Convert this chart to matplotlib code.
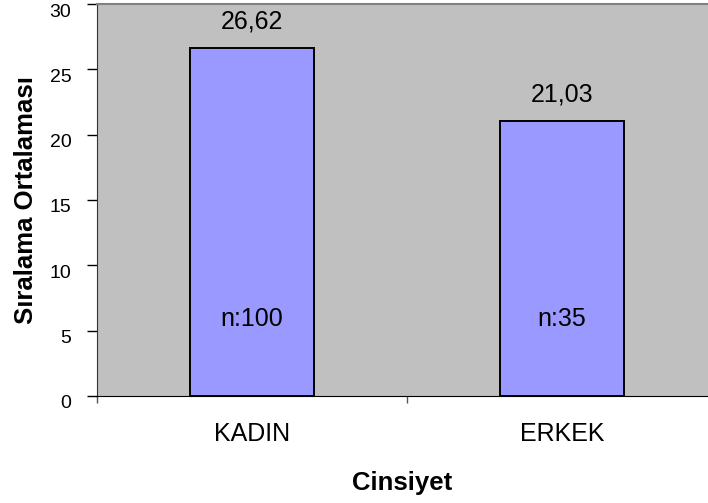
import matplotlib.pyplot as plt
from matplotlib.transforms import ScaledTranslation

plt.rcParams['font.family'] = ['Liberation Sans', 'DejaVu Sans']

# veriler
kategoriler = ['KADIN', 'ERKEK']
ortalamalar = [26.62, 21.03]
n_degerleri = [100, 35]

fig = plt.figure(figsize=(7.08, 5.03), dpi=100)
ax = fig.add_axes([97 / 708, 107 / 503, 1 - 97 / 708, 392 / 503])
ax.set_facecolor('#c0c0c0')

x = list(range(len(kategoriler)))
bars = ax.bar(x, ortalamalar, width=0.403, color='#9999ff', edgecolor='black', linewidth=1.4, zorder=2)

# ortalama degerleri barlarin ustune
for xi, v in zip(x, ortalamalar):
    ax.annotate(f"{v:.2f}".replace('.', ','), (xi, v), xytext=(0, 19.5), textcoords='offset points',
                ha='center', va='center', fontsize=18)

# n sayilari
for xi, n in zip(x, n_degerleri):
    ax.text(xi, 5.9, f"n:{n}", ha='center', va='center', fontsize=18)

ax.set_yticks(range(0, 31, 5))
ax.tick_params(axis='y', length=7.5, width=1, labelsize=14, pad=11)
# y etiketleri biraz asagida duruyor
kaydir = ScaledTranslation(0, -6 / 100, fig.dpi_scale_trans)
for lbl in ax.get_yticklabels():
    lbl.set_transform(lbl.get_transform() + kaydir)

ax.set_xticks(x)
ax.set_xticklabels(kategoriler, fontsize=18)
ax.tick_params(axis='x', which='major', length=0, pad=19)
ax.set_xticks([-0.5, 0.5, 1.5], minor=True)
ax.tick_params(axis='x', which='minor', length=5, width=1, color='#555555')

# set_xticks sinirlari genisletiyor, o yuzden sonra
ax.set_xlim(-0.5, 1.471)
ax.set_ylim(0, 30)

ax.spines['left'].set_color('#333333')
ax.spines['bottom'].set_color('black')
ax.spines['top'].set_color('#808080')
ax.spines['top'].set_linewidth(1.5)
ax.spines['right'].set_visible(False)

ax.set_ylabel('Sıralama Ortalaması', fontsize=18.5, fontweight='bold', labelpad=8)
ax.set_xlabel('Cinsiyet', fontsize=18.5, fontweight='bold', labelpad=18)

fig.savefig('out.png', dpi=100)
